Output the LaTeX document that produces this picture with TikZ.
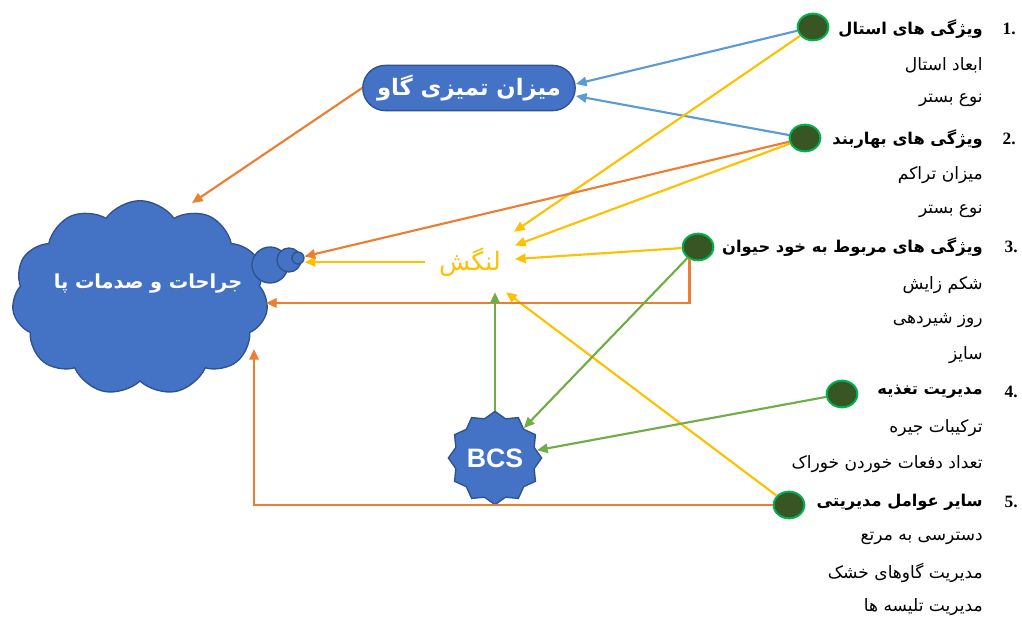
\documentclass[tikz,border=0pt]{standalone}
\usepackage{fontspec}
\usetikzlibrary{arrows.meta,shapes.symbols,shapes.geometric,shapes.misc}
\newfontfamily\arabicfont[Script=Arabic]{DejaVu Sans}
\newfontfamily\numfont{Liberation Serif}
\newfontfamily\bcsfont{Liberation Sans}
\TeXXeTstate=1
\definecolor{shapeblue}{HTML}{4472C4}
\definecolor{shapeborder}{HTML}{2F528F}
\definecolor{arblue}{HTML}{5B9BD5}
\definecolor{arorange}{HTML}{ED7D31}
\definecolor{aryellow}{HTML}{FFC000}
\definecolor{argreen}{HTML}{70AD47}
\definecolor{dotfill}{HTML}{375623}
\definecolor{dotborder}{HTML}{00B050}
\tikzset{
  dotnode/.style={ellipse, fill=dotfill, draw=dotborder, line width=1.5pt, minimum width=23pt, minimum height=20pt, inner sep=0pt},
  head/.style={anchor=east, inner sep=0pt, font=\arabicfont\bfseries\fontsize{12.2}{14}\selectfont},
  sub/.style={anchor=east, inner sep=0pt, font=\arabicfont\fontsize{12.8}{14}\selectfont},
  num/.style={anchor=east, inner sep=0pt, font=\numfont\bfseries\fontsize{13}{15}\selectfont},
  blueshape/.style={fill=shapeblue, draw=shapeborder, line width=1pt, text=white},
  arr/.style={line width=1.6pt, -{Triangle[length=8pt,width=7pt]}},
}
\begin{document}
\begin{tikzpicture}[x=0.75pt,y=-0.75pt]
\useasboundingbox (0,0) rectangle (1022,617);
% main shapes
\node[cloud, cloud puffs=11, cloud puff arc=110, aspect=1.3, blueshape, minimum width=192pt, minimum height=146pt, inner sep=0pt] (cloud) at (140,298) {};
\node[text=white, inner sep=0pt, font=\arabicfont\bfseries\fontsize{14.5}{17}\selectfont] (cloudtext) at (148,284) {\beginR جراحات و صدمات پا\endR};
\node[circle, blueshape, minimum size=27pt, inner sep=0pt] (b1) at (270,265) {};
\node[circle, blueshape, minimum size=18pt, inner sep=0pt] (b2) at (289,260) {};
\node[circle, blueshape, minimum size=9pt, inner sep=0pt] (b3) at (298,258) {};
\node[rounded rectangle, blueshape, minimum width=166pt, minimum height=34pt, font=\arabicfont\bfseries\fontsize{17}{19}\selectfont] (pill) at (469,88) {\beginR میزان تمیزی گاو\endR};
\node[minimum width=67pt, minimum height=45pt, text=aryellow, font=\arabicfont\fontsize{19}{21}\selectfont] (lam) at (470,262) {\beginR لنگش\endR};
\node[star, star points=12, star point ratio=1.15, blueshape, minimum size=70pt, inner sep=0pt, font=\bcsfont\bfseries\fontsize{20}{22}\selectfont] (bcs) at (495,458) {BCS};
% dots
\node[dotnode] (dot1) at (813,27) {};
\node[dotnode] (dot2) at (805,138) {};
\node[dotnode] (dot3) at (698,247) {};
\node[dotnode] (dot4) at (842,394) {};
\node[dotnode] (dot5) at (789,505) {};
% numbers
\node[num] (n1) at (1016,29) {1.};
\node[num] (n2) at (1016,139) {2.};
\node[num] (n3) at (1018,247) {3.};
\node[num] (n4) at (1018,392) {4.};
\node[num] (n5) at (1018,502) {5.};
% headings and items
\node[head] (h1) at (983,29) {\beginR ویژگی های استال\endR};
\node[sub] (s11) at (983,65) {\beginR ابعاد استال\endR};
\node[sub] (s12) at (983,100) {\beginR نوع بستر\endR};
\node[head] (h2) at (983,139) {\beginR ویژگی های بهاربند\endR};
\node[sub] (s21) at (983,175) {\beginR میزان تراکم\endR};
\node[sub] (s22) at (983,211) {\beginR نوع بستر\endR};
\node[head] (h3) at (983,247) {\beginR ویژگی های مربوط به خود حیوان\endR};
\node[sub] (s31) at (983,285) {\beginR شکم زایش\endR};
\node[sub] (s32) at (983,321) {\beginR روز شیردهی\endR};
\node[sub] (s33) at (983,355) {\beginR سایز\endR};
\node[head] (h4) at (983,392) {\beginR مدیریت تغذیه\endR};
\node[sub] (s41) at (983,428) {\beginR ترکیبات جیره\endR};
\node[sub] (s42) at (983,464) {\beginR تعداد دفعات خوردن خوراک\endR};
\node[head] (h5) at (983,502) {\beginR سایر عوامل مدیریتی\endR};
\node[sub] (s51) at (983,538) {\beginR دسترسی به مرتع\endR};
\node[sub] (s52) at (983,573) {\beginR مدیریت گاوهای خشک\endR};
\node[sub] (s53) at (983,607) {\beginR مدیریت تلیسه ها\endR};
% free ends on the cloud border
\coordinate (c1) at (192,203);
\coordinate (c3) at (266,303);
\coordinate (c5) at (254,349);
% blue
\draw[arr, arblue] (dot1) -- ([yshift=3pt]pill.east);
\draw[arr, arblue] (dot2) -- ([yshift=-6pt]pill.east);
% yellow
\draw[arr, aryellow] (dot1) -- (lam);
\draw[arr, aryellow] (dot2) -- (lam);
\draw[arr, aryellow] (dot3) -- (lam);
\draw[arr, aryellow] (dot5) -- (lam.-40);
\draw[arr, aryellow] (lam.west) -- (lam.west -| b3.east);
% orange
\draw[arr, arorange] (pill.west) -- (c1);
\draw[arr, arorange] (dot2) -- (b3);
\draw[arr, arorange] (dot3.235) |- (c3);
\draw[arr, arorange] (dot5.west) -| (c5);
% green
\draw[arr, argreen] (dot3) -- (bcs);
\draw[arr, argreen] (dot4) -- (bcs);
\draw[arr, argreen] (bcs.north) -- (bcs.north |- lam.south);
\end{tikzpicture}
\end{document}
